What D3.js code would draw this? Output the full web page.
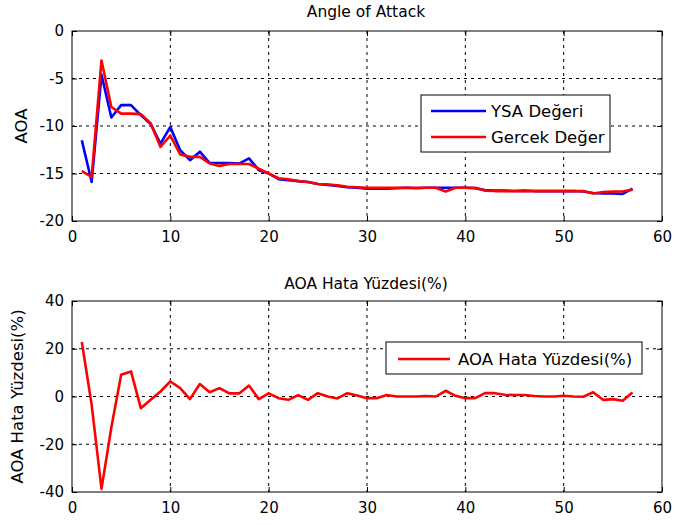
<!DOCTYPE html>
<html><head><meta charset="utf-8">
<script src="https://cdn.jsdelivr.net/npm/d3@7"></script>
<style>body{margin:0;background:#fff}svg{display:block}text{font-family:"DejaVu Sans",sans-serif;fill:#000}</style>
</head><body>
<script>
const xs = d3.range(1, 58);
const ysaValues = [-11.5,-15.9,-4.6,-9.1,-7.8,-7.8,-8.85,-9.8,-11.85,-10.1,-12.55,-13.6,-12.7,-13.9,-13.9,-13.9,-13.95,-13.4,-14.65,-15.0,
 -15.6,-15.7,-15.8,-15.9,-16.1,-16.2,-16.3,-16.45,-16.5,-16.6,-16.6,-16.6,-16.55,-16.5,-16.55,-16.5,-16.5,-16.5,-16.5,-16.5,
 -16.55,-16.75,-16.8,-16.8,-16.85,-16.8,-16.85,-16.85,-16.85,-16.85,-16.85,-16.9,-17.05,-17.1,-17.1,-17.15,-16.6];
const gercekValues = [-14.76,-15.36,-3.1,-8.0,-8.7,-8.7,-8.75,-9.7,-12.2,-11.0,-13.0,-13.25,-13.25,-13.95,-14.2,-14.0,-14.0,-14.0,-14.5,-15.0,
 -15.5,-15.6,-15.8,-15.9,-16.1,-16.15,-16.25,-16.4,-16.45,-16.5,-16.5,-16.5,-16.5,-16.5,-16.5,-16.5,-16.5,-16.9,-16.5,-16.5,
 -16.5,-16.8,-16.85,-16.85,-16.85,-16.85,-16.85,-16.85,-16.85,-16.85,-16.85,-16.85,-17.1,-16.95,-16.9,-16.9,-16.7];
const hataValues = [22.8,-3.5,-38.7,-13,9.1,10.5,-4.9,-1.4,2.1,6.3,3.5,-1.1,5.2,1.8,3.5,1.3,1.3,4.6,-1.1,1.3,
 -0.7,-1.4,0.6,-1.4,1.4,0,-0.8,1.4,0.4,-0.7,-0.7,0.6,0,0,0,0.2,0,2.4,0.3,-0.7,
 -0.7,1.4,1.4,0.7,0.6,0.6,0.2,0,0,0.3,0,-0.1,1.8,-1.4,-1.1,-1.8,1.7];
const xTicks = [0,10,20,30,40,50,60];
const yTicksTop = [0,-5,-10,-15,-20];
const yTicksBottom = [40,20,0,-20,-40];

const W = 675, H = 525;
const svg = d3.select("body").append("svg").attr("width", W).attr("height", H);

function panel(cfg) {
  const x = d3.scaleLinear().domain([0,60]).range([72,662]);
  const y = d3.scaleLinear().domain(cfg.ydom).range([cfg.bottom, cfg.top]);
  const g = svg.append("g");
  g.selectAll(".gx").data(xTicks.slice(1,-1)).join("line")
    .attr("x1", d=>x(d)).attr("x2", d=>x(d)).attr("y1", cfg.top).attr("y2", cfg.bottom)
    .attr("stroke","#000").attr("stroke-width",1).attr("stroke-dasharray","3,4");
  g.selectAll(".gy").data(cfg.yticks.slice(1,-1)).join("line")
    .attr("y1", d=>y(d)).attr("y2", d=>y(d)).attr("x1", 72).attr("x2", 662)
    .attr("stroke","#000").attr("stroke-width",1).attr("stroke-dasharray","3,4");
  const ax = g.append("g").attr("transform",`translate(0,${cfg.bottom})`)
    .call(d3.axisBottom(x).tickValues(xTicks).tickSizeInner(-5).tickSizeOuter(0).tickPadding(10));
  const axt = g.append("g").attr("transform",`translate(0,${cfg.top})`)
    .call(d3.axisTop(x).tickValues(xTicks).tickSizeInner(-5).tickSizeOuter(0).tickFormat(""));
  const ay = g.append("g").attr("transform",`translate(72,0)`)
    .call(d3.axisLeft(y).tickValues(cfg.yticks).tickSizeInner(-5).tickSizeOuter(0).tickPadding(8));
  const ayr = g.append("g").attr("transform",`translate(662,0)`)
    .call(d3.axisRight(y).tickValues(cfg.yticks).tickSizeInner(-5).tickSizeOuter(0).tickFormat(""));
  [ax,axt,ay,ayr].forEach(a=>{
    a.selectAll("text").attr("font-size",15).attr("font-family","DejaVu Sans");
    a.select(".domain").remove();
    a.selectAll(".tick line").attr("stroke","#000");
  });
  ay.selectAll("text").text(d=>d<0?"-"+Math.abs(d):d);
  g.append("rect").attr("x",72).attr("y",cfg.top).attr("width",590).attr("height",cfg.bottom-cfg.top)
    .attr("fill","none").attr("stroke","#000").attr("stroke-width",1);
  g.append("text").attr("x",366).attr("y",cfg.titleY).attr("text-anchor","middle").attr("font-size",15.5).text(cfg.title);
  g.append("text").attr("transform",`translate(${cfg.ylabX},${(cfg.top+cfg.bottom)/2}) rotate(-90)`)
    .attr("text-anchor","middle").attr("font-size",16.5).text(cfg.ylabel);
  const line = d3.line().x((d,i)=>x(xs[i])).y(d=>y(d));
  const clip = "clip"+cfg.top;
  svg.append("clipPath").attr("id",clip).append("rect").attr("x",72).attr("y",cfg.top).attr("width",590).attr("height",cfg.bottom-cfg.top);
  cfg.series.forEach(s=>{
    g.append("path").datum(s.values).attr("d",line).attr("fill","none")
      .attr("stroke",s.color).attr("stroke-width",2.6).attr("stroke-linejoin","round").attr("clip-path",`url(#${clip})`);
  });
  const L = cfg.legend;
  const lg = g.append("g");
  lg.append("rect").attr("x",L.x).attr("y",L.y).attr("width",L.w).attr("height",L.h)
    .attr("fill","#fff").attr("stroke","#000").attr("stroke-width",1);
  cfg.series.forEach((s,i)=>{
    const yy = L.y + L.first + i*L.step;
    lg.append("line").attr("x1",L.x+L.lx1).attr("x2",L.x+L.lx2).attr("y1",yy).attr("y2",yy)
      .attr("stroke",s.color).attr("stroke-width",2.6);
    lg.append("text").attr("x",L.x+L.tx).attr("y",yy).attr("dy","0.35em").attr("font-size",16.5).text(s.name);
  });
}

panel({top:31,bottom:221,ydom:[-20,0],yticks:yTicksTop,title:"Angle of Attack",titleY:17,ylabel:"AOA",ylabX:27,
  series:[{name:"YSA Değeri",values:ysaValues,color:"#0000ff"},{name:"Gercek Değer",values:gercekValues,color:"#ff0000"}],
  legend:{x:421,y:95,w:189,h:57,first:16,step:26,lx1:10,lx2:65,tx:70}});
panel({top:301,bottom:492,ydom:[-40,40],yticks:yTicksBottom,title:"AOA Hata Yüzdesi(%)",titleY:289,ylabel:"AOA Hata Yüzdesi(%)",ylabX:23,
  series:[{name:"AOA Hata Yüzdesi(%)",values:hataValues,color:"#ff0000"}],
  legend:{x:386,y:342,w:256,h:32,first:17,step:26,lx1:12,lx2:64,tx:72}});
</script>
</body></html>
